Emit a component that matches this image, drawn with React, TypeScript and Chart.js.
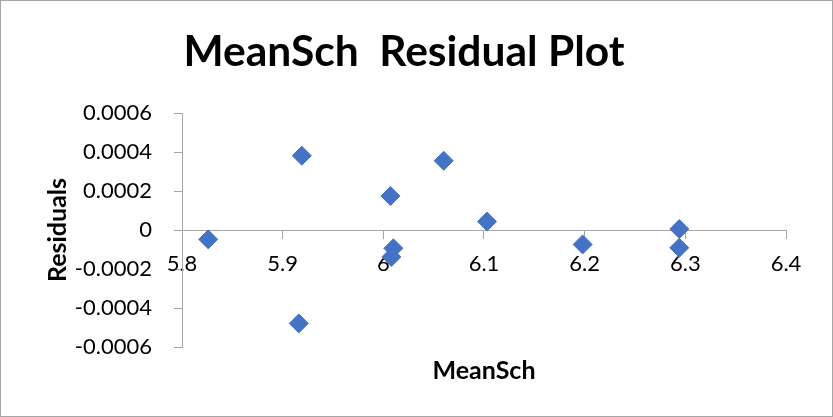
import React, { useEffect, useRef } from "react";
import { Chart, registerables } from "chart.js";

Chart.register(...registerables);

const chartTitle = "MeanSch  Residual Plot";
const xAxisTitle = "MeanSch";
const yAxisTitle = "Residuals";

const meanSch = [5.826, 5.919, 5.916, 6.007, 6.010, 6.008, 6.060, 6.103, 6.198, 6.294, 6.294];
const residuals = [-0.000048, 0.000381, -0.000479, 0.000174, -0.000094, -0.000138, 0.000355, 0.000043, -0.000074, 0.000005, -0.000091];

const xMin = 5.8;
const xMax = 6.4;
const xStep = 0.1;
const yMin = -0.0006;
const yMax = 0.0006;
const yStep = 0.0002;

const AXIS_GRAY = "#a6a6a6";
const POINT_BLUE = "#4472C4";
const FONT = "Lato";

export default function App() {
  const ref = useRef<HTMLCanvasElement | null>(null);

  useEffect(() => {
    if (!ref.current) return;
    const decor = {
      id: "decor",
      afterDraw(chart: any) {
        const ctx = chart.ctx;
        ctx.save();
        ctx.font = `bold 42.5px ${FONT}`;
        ctx.fillStyle = "#000";
        ctx.textAlign = "center";
        ctx.textBaseline = "alphabetic";
        ctx.fillText(chartTitle, 404, 66);
        ctx.strokeStyle = AXIS_GRAY;
        ctx.lineWidth = 1;
        ctx.strokeRect(0.5, 0.5, chart.width - 1, chart.height - 1);
        const ca = chart.chartArea;
        ctx.translate(66, (ca.top + ca.bottom) / 2);
        ctx.rotate(-Math.PI / 2);
        ctx.font = `bold 25px ${FONT}`;
        ctx.textAlign = "center";
        ctx.textBaseline = "alphabetic";
        ctx.fillText(yAxisTitle, 0, 0);
        ctx.restore();
      },
    };
    const chart = new Chart(ref.current, {
      type: "scatter",
      data: {
        datasets: [
          {
            label: "Residuals",
            data: meanSch.map((x, i) => ({ x, y: residuals[i] })),
            pointStyle: "rectRot",
            pointRadius: 9.5,
            pointHoverRadius: 9.5,
            backgroundColor: POINT_BLUE,
            borderColor: POINT_BLUE,
            borderWidth: 1,
          },
        ],
      },
      options: {
        responsive: false,
        animation: false,
        events: [],
        layout: { padding: { left: 10, right: 47, top: 113, bottom: 31 } },
        plugins: { legend: { display: false }, tooltip: { enabled: false }, title: { display: false } },
        scales: {
          x: {
            type: "linear",
            position: { y: 0 } as any,
            min: xMin,
            max: xMax,
            ticks: {
              stepSize: xStep,
              font: { family: FONT, size: 22 },
              color: "#000",
              padding: 13,
              maxRotation: 0,
              callback: (v: any) => String(parseFloat(Number(v).toFixed(1))),
            },
            grid: { display: true, drawOnChartArea: false, drawTicks: true, tickLength: 8, color: AXIS_GRAY },
            border: { display: true, color: AXIS_GRAY },
            title: { display: false },
            afterFit: (s: any) => {
              s.height = 0;
            },
          },
          x2: {
            type: "linear",
            position: "bottom",
            ticks: { display: false },
            grid: { display: false, drawTicks: false },
            border: { display: false },
            title: {
              display: true,
              text: xAxisTitle,
              font: { family: FONT, size: 25, weight: "bold" },
              color: "#000",
              padding: { top: 9, bottom: 0 },
            },
          },
          y: {
            type: "linear",
            position: "left",
            min: yMin,
            max: yMax,
            ticks: {
              stepSize: yStep,
              font: { family: FONT, size: 22 },
              color: "#000",
              padding: 22,
              callback: (v: any) => (Math.abs(Number(v)) < 1e-10 ? "0" : Number(v).toFixed(4)),
            },
            grid: { display: true, drawOnChartArea: false, drawTicks: true, tickLength: 8, color: AXIS_GRAY },
            border: { display: true, color: AXIS_GRAY },
            title: { display: false },
            afterFit: (s: any) => {
              s.width = 172;
            },
          },
        },
      } as any,
      plugins: [decor],
    });
    return () => chart.destroy();
  }, []);

  return (
    <div style={{ position: "absolute", left: 0, top: 0, width: 833, height: 417 }}>
      <canvas ref={ref} width={833} height={417} style={{ display: "block", width: 833, height: 417 }} />
    </div>
  );
}
